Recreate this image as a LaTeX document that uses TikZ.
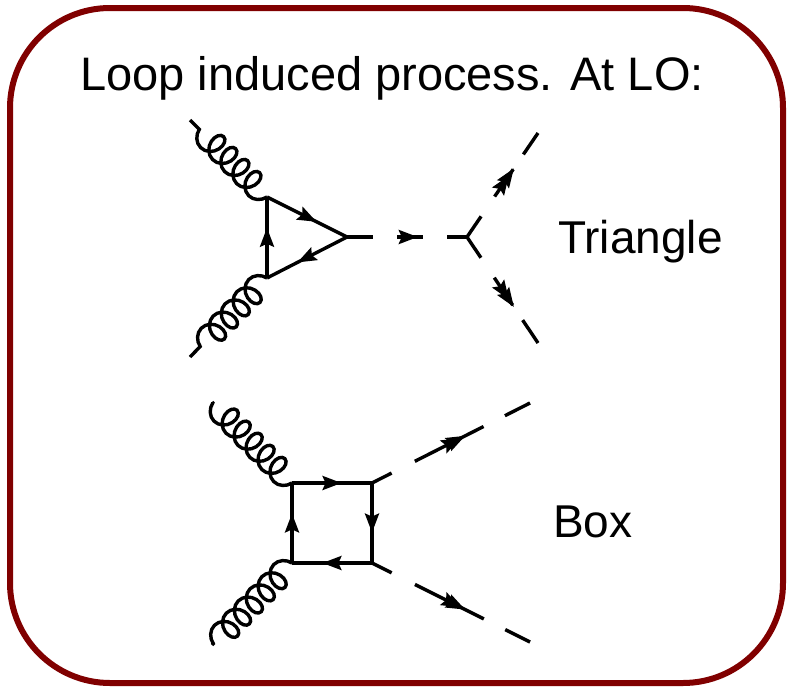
\documentclass[tikz,border=0pt]{standalone}
\usepackage{fontspec}
\setmainfont{Liberation Sans}
\usetikzlibrary{arrows.meta,decorations.pathmorphing,decorations.markings}
\definecolor{darkred}{RGB}{128,0,0}
\tikzstyle{gluon}=[decorate,
                decoration={coil,amplitude=12pt,segment length=17pt,aspect=0.8},
                line width=3.4pt]
\tikzstyle{fermion}=[line width=3.4pt,
                postaction={decorate},
                decoration={markings,mark=at position 0.62 with {\arrow{fa}}}]
\tikzstyle{scalar}=[line width=3.4pt,
                dash pattern=on 26pt off 24pt,
                postaction={decorate},
                decoration={markings,mark=at position 0.59 with {\arrow{fa}}}]
\tikzstyle{label}=[font=\fontsize{46}{54}\selectfont,anchor=base west,inner sep=0pt]

\begin{document}
\begin{tikzpicture}[x=1pt,y=-1pt,fa/.tip={Stealth[length=19pt,width=14pt,inset=3pt]}]
\useasboundingbox (0,0) rectangle (792,688);
\draw[darkred,line width=6pt,rounded corners=100pt] (10,8) rectangle (783,683);

% title
\node[font=\fontsize{47}{56}\selectfont,anchor=base,inner sep=0pt] (title) at (392,90) {Loop induced process. At LO:};

% triangle vertices
\coordinate (t1) at (267,197);
\coordinate (t2) at (267,278);
\coordinate (t3) at (347,237);
\coordinate (tv) at (467,237);
\coordinate (tg1) at (190,120);
\coordinate (tg2) at (190,357);
\coordinate (th1) at (538,133);
\coordinate (th2) at (538,343);

% triangle paths
\draw[gluon] (t1) -- (tg1);
\draw[gluon,decoration={mirror}] (t2) -- (tg2);
\draw[fermion] (t1) -- (t3);
\draw[fermion] (t3) -- (t2);
\draw[fermion] (t2) -- (t1);
\draw[scalar] (t3) -- (tv);
\draw[scalar,dash pattern=on 25pt off 24pt on 33pt off 18pt on 30pt,
      decoration={markings,mark=at position 0.66 with {\arrow{fa}}}] (tv) -- (th1);
\draw[scalar,dash pattern=on 25pt off 24pt on 33pt off 18pt on 30pt,
      decoration={markings,mark=at position 0.66 with {\arrow{fa}}}] (tv) -- (th2);
\node[label] (tri) at (558,253) {Triangle};

% box vertices
\coordinate (b1) at (292,483);
\coordinate (b2) at (372,483);
\coordinate (b3) at (372,563);
\coordinate (b4) at (292,563);
\coordinate (bg1) at (212,402);
\coordinate (bg2) at (212,645);
\coordinate (bh1) at (530,403);
\coordinate (bh2) at (530,642);

% box paths
\draw[gluon] (b1) -- (bg1);
\draw[gluon,decoration={mirror}] (b4) -- (bg2);
\draw[fermion] (b1) -- (b2);
\draw[fermion] (b2) -- (b3);
\draw[fermion] (b3) -- (b4);
\draw[fermion] (b4) -- (b1);
\draw[scalar,dash pattern=on 22pt off 26pt on 77pt off 24pt on 40pt,
      decoration={markings,mark=at position 0.56 with {\arrow{fa}}}] (b2) -- (bh1);
\draw[scalar,dash pattern=on 22pt off 26pt on 77pt off 24pt on 40pt,
      decoration={markings,mark=at position 0.56 with {\arrow{fa}}}] (b3) -- (bh2);
\node[label] (box) at (553,537) {Box};
\end{tikzpicture}
\end{document}
